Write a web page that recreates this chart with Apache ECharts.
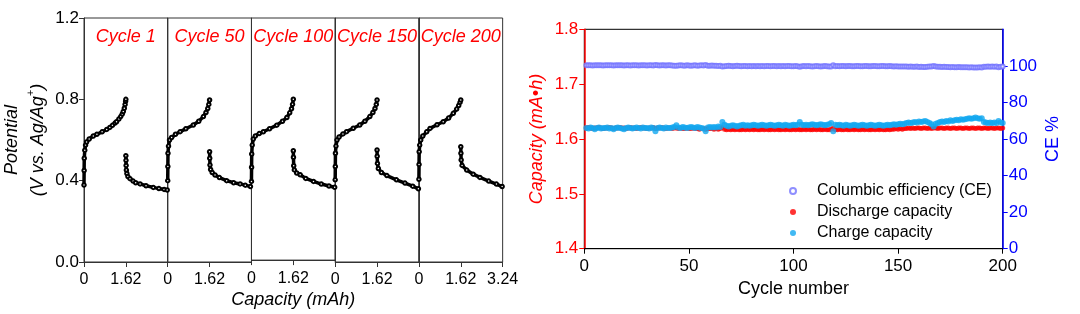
<!DOCTYPE html>
<html>
<head>
<meta charset="utf-8">
<script src="https://cdn.jsdelivr.net/npm/echarts@6/dist/echarts.min.js"></script>
<style>
html,body{margin:0;padding:0;background:#fff;}
#chart{width:1080px;height:314px;}
</style>
</head>
<body>
<div id="chart"></div>
<script>
// ---------- Left panel: potential vs capacity ----------
var cycleLabels = ['Cycle 1', 'Cycle 50', 'Cycle 100', 'Cycle 150', 'Cycle 200'];

var charge1 = [[0,0.379],[0.005,0.45],[0.01,0.51],[0.03,0.55],[0.06,0.575],[0.1,0.59],[0.2,0.605],[0.36,0.62],[0.5,0.628],[0.7,0.64],[0.88,0.652],[1.0,0.662],[1.1,0.672],[1.2,0.683],[1.26,0.69],[1.35,0.703],[1.42,0.715],[1.48,0.728],[1.52,0.74],[1.56,0.756],[1.59,0.775],[1.61,0.79],[1.62,0.8]];
var discharge1 = [[1.62,0.523],[1.625,0.5],[1.63,0.475],[1.64,0.452],[1.66,0.435],[1.7,0.42],[1.78,0.41],[1.9,0.398],[2.0,0.39],[2.17,0.384],[2.4,0.375],[2.68,0.367],[2.9,0.361],[3.1,0.357],[3.22,0.354]];
var charge50 = [[0,0.40],[0.005,0.47],[0.01,0.535],[0.03,0.57],[0.07,0.6],[0.15,0.612],[0.3,0.628],[0.48,0.641],[0.7,0.655],[0.99,0.674],[1.2,0.692],[1.38,0.715],[1.48,0.735],[1.55,0.755],[1.59,0.775],[1.62,0.797]];
var discharge50 = [[1.62,0.542],[1.625,0.51],[1.635,0.477],[1.66,0.455],[1.72,0.44],[1.83,0.428],[2.0,0.415],[2.28,0.40],[2.55,0.39],[2.8,0.384],[3.0,0.378],[3.2,0.371]];
var charge100 = [[0,0.39],[0.005,0.46],[0.01,0.526],[0.03,0.57],[0.07,0.6],[0.15,0.615],[0.3,0.627],[0.46,0.636],[0.7,0.651],[0.98,0.669],[1.2,0.688],[1.37,0.707],[1.48,0.73],[1.55,0.75],[1.59,0.772],[1.62,0.797]];
var discharge100 = [[1.62,0.542],[1.625,0.51],[1.635,0.468],[1.66,0.447],[1.75,0.432],[1.885,0.423],[2.1,0.405],[2.4,0.39],[2.7,0.377],[3.0,0.367],[3.22,0.361]];
var charge150 = [[0,0.404],[0.005,0.47],[0.01,0.535],[0.03,0.57],[0.07,0.6],[0.15,0.615],[0.3,0.63],[0.44,0.641],[0.7,0.658],[0.95,0.674],[1.15,0.692],[1.34,0.715],[1.46,0.735],[1.54,0.755],[1.59,0.775],[1.62,0.797]];
var discharge150 = [[1.62,0.551],[1.625,0.52],[1.635,0.485],[1.67,0.46],[1.79,0.44],[2.0,0.425],[2.37,0.404],[2.7,0.388],[3.0,0.373],[3.22,0.36]];
var charge200 = [[0,0.407],[0.005,0.48],[0.01,0.542],[0.03,0.575],[0.07,0.6],[0.15,0.62],[0.3,0.64],[0.43,0.657],[0.7,0.675],[0.94,0.69],[1.15,0.708],[1.33,0.731],[1.46,0.752],[1.54,0.77],[1.59,0.785],[1.62,0.797]];
var discharge200 = [[1.62,0.567],[1.625,0.535],[1.635,0.502],[1.67,0.475],[1.85,0.452],[2.1,0.432],[2.36,0.416],[2.7,0.398],[3.0,0.383],[3.22,0.371]];

var chargeCurves = [charge1, charge50, charge100, charge150, charge200];
var dischargeCurves = [discharge1, discharge50, discharge100, discharge150, discharge200];

// ---------- Right panel: cycling ----------
var dischargeCap = [
1.620,1.621,1.620,1.619,1.620,1.620,1.621,1.620,1.619,1.620,1.620,1.621,1.620,1.619,1.620,1.620,1.621,1.620,1.620,1.619,
1.620,1.621,1.620,1.620,1.619,1.620,1.621,1.620,1.620,1.619,1.620,1.620,1.621,1.619,1.620,1.620,1.621,1.620,1.619,1.620,
1.620,1.619,1.620,1.620,1.619,1.620,1.619,1.619,1.620,1.619,1.619,1.620,1.619,1.619,1.618,1.619,1.619,1.618,1.619,1.619,
1.619,1.618,1.619,1.618,1.619,1.621,1.618,1.617,1.618,1.617,1.618,1.617,1.618,1.617,1.617,1.618,1.617,1.618,1.617,1.618,
1.617,1.618,1.617,1.617,1.618,1.617,1.618,1.617,1.617,1.618,1.617,1.618,1.617,1.617,1.618,1.617,1.618,1.617,1.617,1.618,
1.617,1.618,1.617,1.617,1.618,1.617,1.618,1.617,1.617,1.618,1.617,1.618,1.617,1.617,1.618,1.617,1.617,1.618,1.620,1.617,
1.617,1.618,1.617,1.617,1.618,1.617,1.617,1.618,1.617,1.618,1.617,1.617,1.618,1.617,1.618,1.617,1.617,1.618,1.617,1.618,
1.617,1.618,1.617,1.617,1.618,1.617,1.618,1.618,1.619,1.618,1.619,1.618,1.619,1.619,1.620,1.619,1.620,1.619,1.620,1.620,
1.619,1.620,1.620,1.619,1.620,1.619,1.620,1.620,1.619,1.620,1.620,1.619,1.620,1.620,1.619,1.620,1.620,1.619,1.620,1.620,
1.619,1.620,1.620,1.619,1.620,1.620,1.619,1.620,1.620,1.619,1.620,1.620,1.619,1.620,1.620,1.619,1.620,1.620,1.619,1.620];

var chargeCap = [
1.620,1.619,1.621,1.620,1.618,1.620,1.621,1.619,1.620,1.620,1.621,1.619,1.620,1.618,1.620,1.621,1.620,1.619,1.618,1.620,
1.621,1.620,1.619,1.620,1.621,1.620,1.619,1.621,1.620,1.620,1.619,1.621,1.620,1.614,1.620,1.621,1.620,1.619,1.621,1.620,
1.620,1.621,1.622,1.625,1.621,1.620,1.622,1.621,1.620,1.621,1.622,1.621,1.620,1.622,1.621,1.620,1.619,1.614,1.621,1.622,
1.621,1.622,1.621,1.623,1.622,1.631,1.626,1.624,1.623,1.624,1.625,1.624,1.623,1.624,1.625,1.626,1.624,1.625,1.624,1.625,
1.626,1.625,1.624,1.625,1.626,1.625,1.624,1.625,1.626,1.625,1.624,1.625,1.626,1.625,1.624,1.626,1.625,1.624,1.625,1.626,
1.625,1.626,1.631,1.626,1.625,1.626,1.625,1.626,1.627,1.626,1.625,1.626,1.627,1.626,1.625,1.626,1.627,1.629,1.614,1.626,
1.625,1.626,1.625,1.624,1.626,1.625,1.624,1.625,1.626,1.625,1.624,1.625,1.626,1.625,1.624,1.625,1.626,1.625,1.624,1.625,
1.626,1.625,1.624,1.625,1.626,1.625,1.626,1.627,1.626,1.627,1.628,1.627,1.628,1.629,1.630,1.629,1.630,1.631,1.630,1.632,
1.631,1.632,1.633,1.631,1.629,1.627,1.623,1.628,1.629,1.631,1.632,1.631,1.633,1.632,1.634,1.633,1.634,1.635,1.634,1.636,
1.635,1.636,1.637,1.638,1.637,1.638,1.639,1.638,1.637,1.638,1.631,1.630,1.629,1.630,1.629,1.630,1.629,1.633,1.630,1.629];

var cePercent = [
100.3,100.4,100.3,100.2,100.4,100.3,100.3,100.4,100.2,100.3,100.3,100.4,100.3,100.2,100.3,100.4,100.3,100.3,100.2,100.3,
100.3,100.2,100.4,100.3,100.3,100.2,100.3,100.4,100.3,100.2,100.3,100.3,100.2,100.5,100.3,100.2,100.3,100.3,100.2,100.3,
100.3,100.2,100.1,100.0,100.2,100.3,100.2,100.1,100.3,100.2,100.1,100.2,100.3,100.1,100.2,100.3,100.2,100.5,100.1,100.0,
100.2,100.1,100.0,99.9,100.1,99.6,99.8,99.9,100.0,99.9,99.8,99.9,100.0,99.9,99.8,99.9,99.9,99.8,99.9,99.8,
99.9,99.8,99.9,99.8,99.9,99.8,99.9,99.9,99.8,99.9,99.9,99.8,99.9,99.8,99.9,99.8,99.9,99.9,99.8,99.8,
99.9,99.8,99.5,99.8,99.9,99.8,99.9,99.8,99.7,99.8,99.9,99.8,99.7,99.8,99.9,99.8,99.7,99.6,100.4,99.8,
99.9,99.8,99.9,99.9,99.8,99.9,99.9,99.8,99.8,99.9,99.9,99.8,99.8,99.9,99.9,99.8,99.8,99.9,99.9,99.8,
99.8,99.9,99.9,99.8,99.8,99.9,99.8,99.7,99.8,99.7,99.7,99.7,99.6,99.6,99.5,99.6,99.5,99.5,99.6,99.4,
99.5,99.4,99.4,99.5,99.6,99.7,99.9,99.6,99.5,99.5,99.4,99.5,99.4,99.4,99.3,99.4,99.3,99.3,99.4,99.2,
99.3,99.2,99.2,99.1,99.2,99.1,99.1,99.1,99.2,99.1,99.5,99.5,99.6,99.5,99.6,99.5,99.6,99.3,99.5,99.6];

var cycleNumbers = [];
for (var c = 1; c <= 200; c++) cycleNumbers.push(c);

var leftYTicks = ['0.0', '0.4', '0.8', '1.2'];
var ceTicks = [0, 20, 40, 60, 80, 100];
var legendNames = ['Columbic efficiency (CE)', 'Discharge capacity', 'Charge capacity'];

// ---------- build option ----------
var FONT = 'Arial, "Liberation Sans", sans-serif';
var panelLeft = 84, panelW = 83.73, panelTop = 18, panelBottom = 52;

var grids = [], xAxes = [], yAxes = [], series = [], graphics = [];

for (var i = 0; i < 5; i++) {
  grids.push({left: panelLeft + panelW * i, width: panelW, top: panelTop, bottom: panelBottom,
    show: true, borderColor: '#333', borderWidth: 1});
  (function(idx){
    xAxes.push({
      type: 'value', gridIndex: idx, min: 0, max: 3.24, interval: 1.62,
      axisLine: {show: true, onZero: false, lineStyle: {color: '#333', width: 1}},
      axisTick: {show: true, length: 5, lineStyle: {color: '#333'}},
      splitLine: {show: false},
      axisLabel: {
        fontSize: 16, color: '#000', fontFamily: FONT, margin: 10,
        showMaxLabel: idx === 4,
        formatter: function (v) {
          if (v === 0) return '0';
          if (Math.abs(v - 1.62) < 1e-6) return '1.62';
          return idx === 4 ? '3.24' : '';
        }
      },
      name: idx === 2 ? 'Capacity (mAh)' : '',
      nameLocation: 'middle', nameGap: 30,
      nameTextStyle: {fontSize: 18, fontStyle: 'italic', color: '#000', fontFamily: FONT}
    });
  })(i);
  yAxes.push({
    type: 'value', gridIndex: i, min: 0, max: 1.2, interval: 0.4,
    axisLine: {show: true, lineStyle: {color: '#333', width: 1}},
    axisTick: {show: i === 0, length: 5, lineStyle: {color: '#333'}},
    splitLine: {show: false},
    axisLabel: {show: i === 0, fontSize: 17, color: '#000', fontFamily: FONT, margin: 5,
      formatter: function (v) { return leftYTicks[Math.round(v / 0.4)]; }},
    name: i === 0 ? '{i|Potential}\n{i|(V vs. Ag/Ag}{s|+}{i|)}' : '',
    nameLocation: 'middle', nameGap: 33,
    nameTextStyle: {
      rich: {
        i: {fontSize: 18, fontStyle: 'italic', color: '#000', fontFamily: FONT, lineHeight: 26},
        s: {fontSize: 11, fontStyle: 'italic', color: '#000', fontFamily: FONT, lineHeight: 12, verticalAlign: 'top'}
      }
    }
  });
  [chargeCurves[i], dischargeCurves[i]].forEach(function (d) {
    series.push({
      type: 'line', xAxisIndex: i, yAxisIndex: i, data: d,
      symbol: 'emptyCircle', symbolSize: 3.5, showSymbol: true,
      lineStyle: {color: '#000', width: 3.5},
      itemStyle: {color: '#000', borderWidth: 1},
      silent: true, animation: false, z: 3
    });
  });
  graphics.push({
    type: 'text', x: panelLeft + panelW * i + panelW / 2, y: 28,
    style: {text: cycleLabels[i], fill: '#ff0000', font: 'italic 18px ' + FONT, textAlign: 'center'}
  });
}

// right grid
grids.push({left: 584.3, right: 77.3, top: 29.3, bottom: 65.3, show: true, borderColor: '#000', borderWidth: 1});
xAxes.push({
  type: 'value', gridIndex: 5, min: 0, max: 200, interval: 50,
  axisLine: {show: true, onZero: false, lineStyle: {color: '#000'}},
  axisTick: {show: true, length: 5, lineStyle: {color: '#000'}},
  splitLine: {show: false},
  axisLabel: {fontSize: 17, color: '#000', fontFamily: FONT, margin: 9},
  name: 'Cycle number', nameLocation: 'middle', nameGap: 26,
  nameTextStyle: {fontSize: 18, color: '#000', fontFamily: FONT}
});
yAxes.push({
  type: 'value', gridIndex: 5, position: 'left', min: 1.4, max: 1.8, interval: 0.1,
  axisLine: {show: true, lineStyle: {color: '#ff0000', width: 1.5}},
  axisTick: {show: true, length: 5, lineStyle: {color: '#ff0000'}},
  splitLine: {show: false},
  axisLabel: {fontSize: 17, color: '#ff0000', fontFamily: FONT, margin: 6,
    formatter: function (v) { return v.toFixed(1); }},
  name: 'Capacity (mA•h)', nameLocation: 'middle', nameGap: 38,
  nameTextStyle: {fontSize: 18, fontStyle: 'italic', color: '#ff0000', fontFamily: FONT}
});
yAxes.push({
  type: 'value', gridIndex: 5, position: 'right', min: 0, max: 120, interval: 20,
  axisLine: {show: true, lineStyle: {color: '#0000ff', width: 1.5}},
  axisTick: {show: true, length: 5, lineStyle: {color: '#0000ff'}, customValues: ceTicks},
  splitLine: {show: false},
  axisLabel: {fontSize: 17, color: '#0000ff', fontFamily: FONT, margin: 6, customValues: ceTicks},
  name: 'CE %', nameLocation: 'middle', nameGap: 41,
  nameTextStyle: {fontSize: 18, color: '#0000ff', fontFamily: FONT}
});

function pairs(xs, ys) { return xs.map(function (x, k) { return [x, ys[k]]; }); }

series.push({
  name: legendNames[0], type: 'scatter', xAxisIndex: 5, yAxisIndex: 6,
  data: pairs(cycleNumbers, cePercent), symbol: 'emptyCircle', symbolSize: 4,
  itemStyle: {color: '#7373ff', borderWidth: 0.6}, animation: false, z: 3
});
series.push({
  name: legendNames[1], type: 'scatter', xAxisIndex: 5, yAxisIndex: 5,
  data: pairs(cycleNumbers, dischargeCap), symbol: 'circle', symbolSize: 5,
  itemStyle: {color: '#ff0000'}, animation: false, z: 4
});
series.push({
  name: legendNames[2], type: 'scatter', xAxisIndex: 5, yAxisIndex: 5,
  data: pairs(cycleNumbers, chargeCap), symbol: 'circle', symbolSize: 6,
  itemStyle: {color: '#11a8f0'}, animation: false, z: 5
});

var option = {
  backgroundColor: '#fff',
  animation: false,
  grid: grids,
  xAxis: xAxes,
  yAxis: yAxes,
  series: series,
  graphic: graphics,
  legend: {
    orient: 'vertical', left: 784, top: 178, itemGap: 5,
    itemWidth: 38, itemHeight: 6,
    data: [
      {name: legendNames[0], icon: 'emptyCircle', itemStyle: {borderWidth: 1}},
      {name: legendNames[1], icon: 'circle'},
      {name: legendNames[2], icon: 'circle'}
    ],
    textStyle: {fontSize: 16, color: '#000', fontFamily: FONT},
    selectedMode: false
  }
};

var chart = echarts.init(document.getElementById('chart'), null, {renderer: 'canvas'});
chart.setOption(option);
</script>
</body>
</html>
